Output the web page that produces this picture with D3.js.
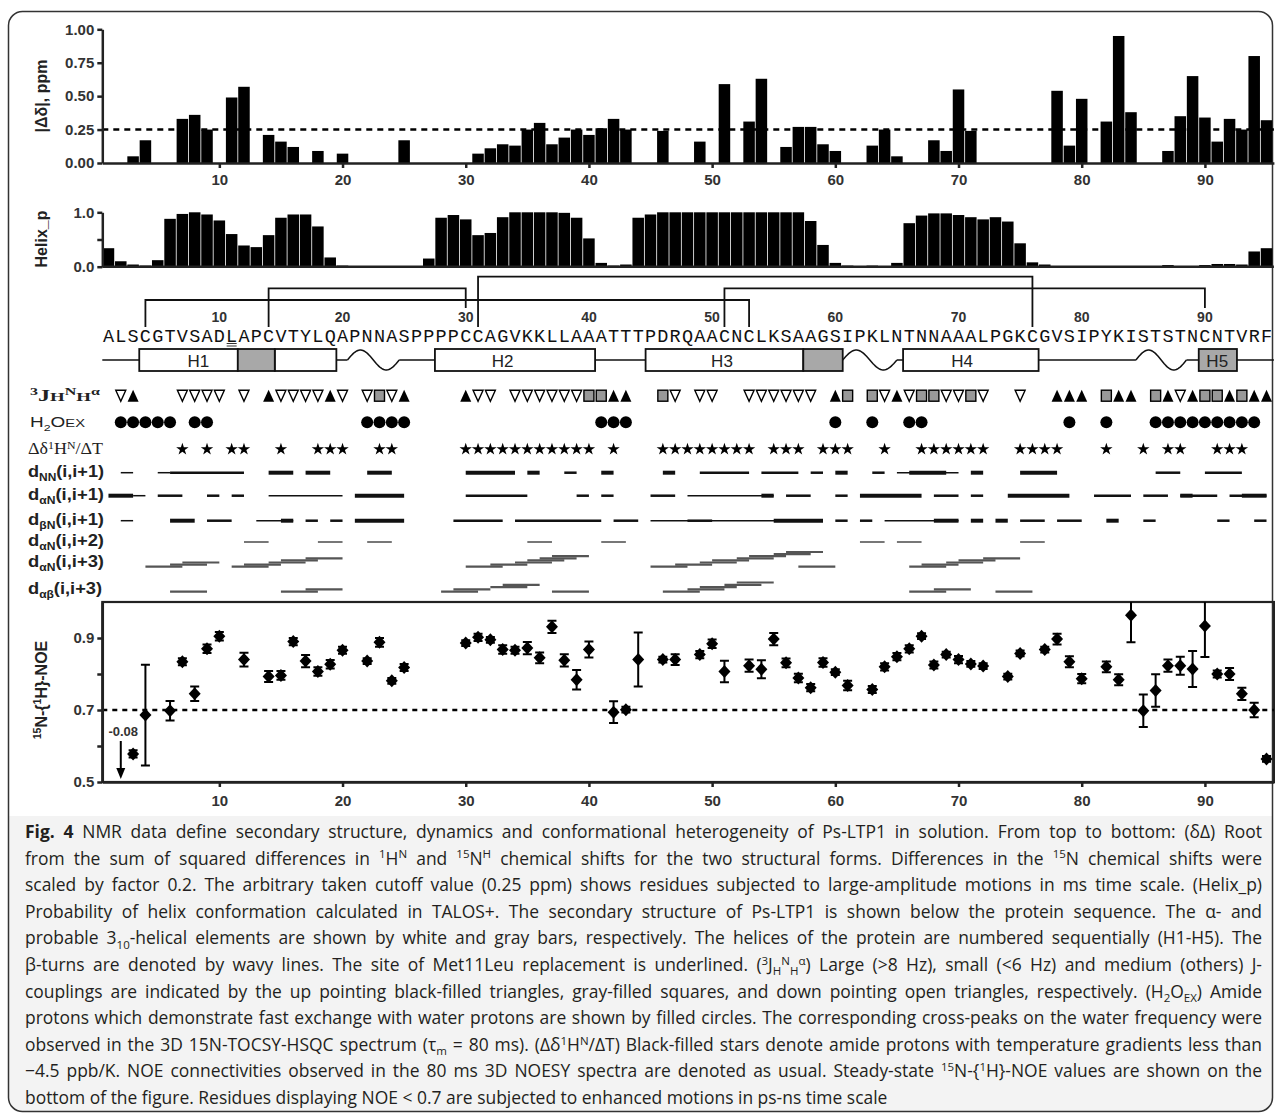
<!DOCTYPE html>
<html><head><meta charset="utf-8">
<script src="https://cdn.jsdelivr.net/npm/d3@7"></script>
<style>body{margin:0;background:#fff}svg{display:block}</style>
</head><body>
<svg id="c" width="1281" height="1115"></svg>
<script>
// ---------------- DATA ----------------
const sequence = "ALSCGTVSADLAPCVTYLQAPNNASPPPPCCAGVKKLLAAATTTPDRQAACNCLKSAAGSIPKLNTNNAAALPGKCGVSIPYKISTSTNCNTVRF";
const seqTicks = [10,20,30,40,50,60,70,80,90];
const underlined = [11];

// |Δδ| (ppm)
const ddRes = [3,4,7,8,9,11,12,14,15,16,18,20,25,31,32,33,34,35,36,37,38,39,40,41,42,43,46,49,51,53,54,56,57,58,59,60,63,64,65,68,69,70,71,78,79,80,82,83,84,87,88,89,90,91,92,93,94,95];
const ddVal = [0.05,0.17,0.33,0.36,0.25,0.49,0.57,0.21,0.16,0.12,0.09,0.07,0.17,0.07,0.11,0.14,0.13,0.25,0.30,0.14,0.19,0.25,0.21,0.26,0.33,0.25,0.24,0.16,0.59,0.31,0.63,0.12,0.27,0.27,0.14,0.09,0.13,0.25,0.05,0.17,0.09,0.55,0.24,0.54,0.13,0.48,0.31,0.95,0.38,0.09,0.35,0.65,0.34,0.16,0.33,0.25,0.80,0.32];
const ddCutoff = 0.25;
const ddTicks = [0,0.25,0.5,0.75,1.0];

// Helix_p for residues 1..95
const helixP = [0.34,0.10,0.04,0.02,0.12,0.88,0.97,1.00,0.96,0.85,
                0.60,0.39,0.36,0.58,0.90,0.96,0.96,0.74,0.17,0.02,
                0.01,0.01,0.01,0.01,0.01,0.01,0.15,0.90,0.95,0.87,
                0.58,0.62,0.91,1.00,1.00,1.00,1.00,0.99,0.90,0.52,
                0.07,0.02,0.04,0.90,0.96,1.00,1.00,1.00,1.00,1.00,
                1.00,1.00,1.00,1.00,1.00,1.00,1.00,0.84,0.40,0.07,
                0.02,0.01,0.02,0.01,0.07,0.80,0.94,0.98,0.98,0.95,
                0.91,0.87,0.91,0.83,0.43,0.08,0.04,0.01,0.01,0.01,
                0.01,0.01,0.01,0.01,0.01,0.01,0.03,0.01,0.01,0.03,
                0.05,0.05,0.04,0.28,0.34];
const helixTicks = [0,0.5,1.0];

// disulfide bonds [from, to, level]
const ssBonds = [[31,76,0],[14,30,1],[51,90,1],[4,53,2]];

// secondary structure (residue units)
const helixWhite = [[3.5,11.5],[14.5,19.5],[27.5,40.5],[44.6,57.4],[65.5,76.5]];
const helixGray  = [[11.5,14.5],[57.4,60.6],[89.5,92.6]];
const helixNames = ["H1","H2","H3","H4","H5"];
const helixNamePos = [8.3,33.0,50.8,70.3,91.0];
const betaTurns = [[20.4,24.6],[60.6,65.0],[84.4,88.5]];

// 3J(HN,Hα) couplings
const jLarge  = [3,14,19,25,30,42,43,60,65,78,79,80,83,84,87,89,92,94,95];
const jMedium = [23,40,41,46,61,63,67,68,71,82,86,90,91,93];
const jSmall  = [2,7,8,9,10,12,15,16,17,18,20,22,24,31,32,34,35,36,37,38,39,47,49,50,53,54,55,56,57,58,64,66,69,70,72,75,88];
// fast exchange with water
const h2oEx = [2,3,4,5,6,8,9,22,23,24,25,41,42,43,60,63,66,67,79,82,86,87,88,89,90,91,92,93,94];
// temperature gradient stars
const tempStars = [7,9,11,12,15,18,19,20,23,24,30,31,32,33,34,35,36,37,38,39,40,42,46,47,48,49,50,51,52,53,55,56,57,59,60,61,64,67,68,69,70,71,72,75,76,77,78,82,85,87,88,91,92,93];

// NOE connectivities [from, to, intensity 1..3]
const dNN = [[2,3,1],[5,6,1],[6,12,2],[14,16,3],[17,19,3],[22,24,3],[30,34,3],[35,36,3],[38,39,2],[41,42,3],[46,47,3],[49,53,2],[54,57,2],[58,59,2],[60,61,3],[63,64,2],[65,70,1],[66,69,3],[71,72,3],[75,78,3],[86,88,2],[90,93,2]];
const dAN1 = [[1,3,3],[3,4,1],[5,7,2],[9,10,2],[11,12,2],[14,20,1],[21,25,3],[30,35,2],[39,40,2],[41,42,2],[45,47,2],[48,55,1],[54,55,3],[56,58,2],[60,61,2],[62,67,3],[68,70,2],[71,72,2],[74,79,3],[81,84,2],[85,87,2],[88,91,2],[88,89,3],[92,95,2],[93,95,3]];
const dBN1 = [[2,3,1],[6,8,3],[9,11,2],[13,16,1],[15,16,3],[17,18,2],[19,20,2],[21,25,3],[29,33,2],[34,41,2],[42,44,2],[45,59,1],[48,50,2],[55,59,3],[60,61,2],[62,63,2],[64,70,1],[68,70,3],[71,72,3],[73,74,3],[75,77,2],[78,80,2],[82,83,3],[85,86,2],[91,92,2],[94,95,2]];
const dAN2 = [[12,14],[18,20],[22,24],[35,37],[41,43],[62,64],[65,67],[75,77]];
// i -> i+3 connectivities [i, stack level]
const dAN3 = [[4,0],[6,1],[7,2],[11,0],[12,1],[14,2],[15,3],[17,4],[30,0],[32,1],[34,2],[35,3],[36,4],[37,5],[45,0],[47,1],[49,2],[50,3],[52,4],[53,5],[55,6],[56,7],[57,0],[66,0],[67,1],[69,2],[70,3],[72,4]];
const dAB3 = [[6,0],[15,0],[17,1],[28,0],[29,1],[32,2],[33,3],[37,0],[46,0],[48,1],[49,2],[51,3],[52,4],[66,0],[68,1],[73,0]];

// 15N-{1H}-NOE
const noeRes = [3,4,6,7,8,9,10, 12,14,15,16,17,18,19,20, 22,23,24,25,
  30,31,32,33,34,35,36,37,38,39,40, 42,43,44, 46,47, 49,50,51,
  53,54,55,56,57,58,59,60,61, 63,64,65,66,67,68,69,70,71,72, 74,75, 77,78,79,80,
  82,83,84,85,86,87,88,89,90,91,92,93,94,95];
const noeVal = [0.578,0.686,0.698,0.834,0.745,0.870,0.905, 0.840,0.793,0.796,0.890,0.836,0.807,0.827,0.866, 0.836,0.888,0.781,0.818,
  0.886,0.902,0.895,0.868,0.866,0.872,0.845,0.931,0.838,0.784,0.868, 0.694,0.701,0.840, 0.840,0.840, 0.854,0.884,0.807,
  0.823,0.813,0.897,0.831,0.789,0.762,0.832,0.805,0.768, 0.757,0.820,0.848,0.870,0.905,0.825,0.854,0.840,0.828,0.822, 0.793,0.857, 0.868,0.897,0.834,0.787,
  0.820,0.784,0.963,0.698,0.754,0.823,0.823,0.814,0.933,0.800,0.800,0.745,0.700,0.564];
const noeErr = [0.010,0.140,0.027,0.010,0.020,0.012,0.012, 0.019,0.015,0.012,0.010,0.017,0.012,0.012,0.010, 0.008,0.012,0.008,0.010,
  0.008,0.010,0.008,0.012,0.010,0.017,0.015,0.017,0.017,0.027,0.022, 0.030,0.008,0.075, 0.008,0.015, 0.010,0.012,0.030,
  0.017,0.025,0.017,0.012,0.012,0.010,0.012,0.008,0.013, 0.010,0.010,0.010,0.010,0.008,0.010,0.008,0.010,0.008,0.008, 0.008,0.008, 0.008,0.015,0.015,0.013,
  0.015,0.015,0.075,0.045,0.045,0.017,0.025,0.050,0.086,0.010,0.017,0.017,0.020,0.008];
const noeOffscale = [{res:2, label:"-0.08"}];
const noeCutoff = 0.7;
const noeTicks = [0.5,0.6,0.7,0.8,0.9];
const noeLabeled = [0.5,0.7,0.9];
const xTicks = [10,20,30,40,50,60,70,80,90];

// caption: [text, kind]
const caption = [
 [["Fig. 4","b"],[" NMR data define secondary structure, dynamics and conformational heterogeneity of Ps-LTP1 in solution. From top to bottom: (δΔ) Root","n"]],
 [["from the sum of squared differences in ","n"],["1","sup"],["H","n"],["N","sup"],[" and ","n"],["15","sup"],["N","n"],["H","sup"],[" chemical shifts for the two structural forms. Differences in the ","n"],["15","sup"],["N chemical shifts were","n"]],
 [["scaled by factor 0.2. The arbitrary taken cutoff value (0.25 ppm) shows residues subjected to large-amplitude motions in ms time scale. (Helix_p)","n"]],
 [["Probability of helix conformation calculated in TALOS+. The secondary structure of Ps-LTP1 is shown below the protein sequence. The α- and","n"]],
 [["probable 3","n"],["10","sub"],["-helical elements are shown by white and gray bars, respectively. The helices of the protein are numbered sequentially (H1-H5). The","n"]],
 [["β-turns are denoted by wavy lines. The site of Met11Leu replacement is underlined. (","n"],["3","sup"],["J","n"],["H","sub"],["N","sup"],["H","sub"],["α","sup"],[") Large (>8 Hz), small (<6 Hz) and medium (others) J-","n"]],
 [["couplings are indicated by the up pointing black-filled triangles, gray-filled squares, and down pointing open triangles, respectively. (H","n"],["2","sub"],["O","n"],["EX","sub"],[") Amide","n"]],
 [["protons which demonstrate fast exchange with water protons are shown by filled circles. The corresponding cross-peaks on the water frequency were","n"]],
 [["observed in the 3D 15N-TOCSY-HSQC spectrum (τ","n"],["m","sub"],[" = 80 ms). (Δδ","n"],["1","sup"],["H","n"],["N","sup"],["/ΔT) Black-filled stars denote amide protons with temperature gradients less than","n"]],
 [["−4.5 ppb/K. NOE connectivities observed in the 80 ms 3D NOESY spectra are denoted as usual. Steady-state ","n"],["15","sup"],["N-{","n"],["1","sup"],["H}-NOE values are shown on the","n"]],
 [["bottom of the figure. Residues displaying NOE < 0.7 are subjected to enhanced motions in ps-ns time scale","n"]]
];

// ---------------- DRAW ----------------
const W = 1281, H = 1115;
const svg = d3.select("#c");
const SANS = "'Liberation Sans', Arial, sans-serif";
const SERIF = "'Liberation Serif', 'Times New Roman', serif";
const INK = "#222";
svg.append("rect").attr("width",W).attr("height",H).attr("fill","#fff");

const defs = svg.append("defs");
defs.append("clipPath").attr("id","frameClip").append("rect")
  .attr("x",8.5).attr("y",11.5).attr("width",1264).attr("height",1100).attr("rx",14);

// caption background
svg.append("rect").attr("x",8).attr("y",816).attr("width",1266).attr("height",300)
  .attr("fill","#f3f3f3").attr("clip-path","url(#frameClip)");
svg.append("rect").attr("x",8.5).attr("y",11.5).attr("width",1264).attr("height",1100).attr("rx",14)
  .attr("fill","none").attr("stroke","#333").attr("stroke-width",1.5);

const x = d3.scaleLinear().domain([0.5,95.6]).range([102.3,1273.9]);
const step = x(2)-x(1);

function styleAxis(g, fs){
  g.attr("font-family",SANS).attr("font-size",fs).attr("font-weight","bold");
  g.select(".domain").attr("stroke",INK).attr("stroke-width",2.5);
  g.selectAll(".tick line").attr("stroke",INK).attr("stroke-width",2.5);
  g.selectAll(".tick text").attr("fill","#333");
}
function rich(g, xx, yy, parts, fs, opts){
  opts = opts||{};
  const t = g.append("text").attr("x",xx).attr("y",yy).attr("font-size",fs)
    .attr("font-family",opts.family||SANS).attr("fill",opts.fill||INK);
  if(opts.weight) t.attr("font-weight",opts.weight);
  if(opts.anchor) t.attr("text-anchor",opts.anchor);
  let cur = 0;
  parts.forEach(([txt,kind])=>{
    const off = kind==="sup" ? -0.36*fs : kind==="sub" ? 0.24*fs : 0;
    const ts = t.append("tspan").text(txt).attr("dy", off-cur);
    cur = off;
    if(kind==="sup"||kind==="sub") ts.attr("font-size",fs*0.66);
    if(kind==="sm") ts.attr("font-size",fs*0.78);
    if(kind==="b") ts.attr("font-weight","bold");
  });
  return t;
}

// ---- Panel 1: |Δδ| ----
const yDD = d3.scaleLinear().domain([0,1]).range([163,29.3]);
const p1 = svg.append("g");
p1.selectAll("rect.bar").data(ddRes).join("rect").attr("class","bar")
  .attr("x",r=>x(r)-step/2+0.4).attr("width",step-0.8)
  .attr("y",(r,i)=>yDD(ddVal[i])).attr("height",(r,i)=>yDD(0)-yDD(ddVal[i]))
  .attr("fill","#000");
p1.append("line").attr("x1",x(0.5)).attr("x2",x(95.6)).attr("y1",yDD(ddCutoff)).attr("y2",yDD(ddCutoff))
  .attr("stroke","#000").attr("stroke-width",2.5).attr("stroke-dasharray","6,5");
const a1y = p1.append("g").attr("transform",`translate(${x(0.5)},0)`)
  .call(d3.axisLeft(yDD).tickValues(ddTicks).tickFormat(d3.format(".2f")).tickSize(5).tickSizeOuter(0));
styleAxis(a1y,15);
const a1x = p1.append("g").attr("transform",`translate(0,${yDD(0)})`)
  .call(d3.axisBottom(x).tickValues(xTicks).tickSize(5).tickSizeOuter(0).tickPadding(6));
styleAxis(a1x,15);
p1.append("text").attr("transform",`translate(47,96) rotate(-90)`).attr("text-anchor","middle")
  .attr("font-family",SANS).attr("font-weight","bold").attr("font-size",16).attr("fill",INK).text("|Δδ|, ppm");

// ---- Panel 2: Helix_p ----
const yH = d3.scaleLinear().domain([0,1]).range([266.7,212.3]);
const p2 = svg.append("g");
p2.selectAll("rect").data(helixP).join("rect")
  .attr("x",(v,i)=>x(i+1)-step/2+0.4).attr("width",step-0.8)
  .attr("y",v=>yH(v)).attr("height",v=>yH(0)-yH(v)).attr("fill","#000");
const a2y = p2.append("g").attr("transform",`translate(${x(0.5)},0)`)
  .call(d3.axisLeft(yH).tickValues(helixTicks).tickFormat(d=>d===0.5?"":d3.format(".1f")(d)).tickSize(5).tickSizeOuter(0));
styleAxis(a2y,15);
p2.append("line").attr("x1",x(0.5)).attr("x2",x(95.6)).attr("y1",yH(0)).attr("y2",yH(0)).attr("stroke",INK).attr("stroke-width",2.5);
p2.append("text").attr("transform",`translate(47,239) rotate(-90)`).attr("text-anchor","middle")
  .attr("font-family",SANS).attr("font-weight","bold").attr("font-size",16).attr("fill",INK).text("Helix_p");

// ---- Disulfide bonds ----
const bondLevelY = [276.7,288.3,300];
const pB = svg.append("g").attr("stroke","#111").attr("stroke-width",1.8).attr("fill","none");
ssBonds.forEach(([a,b,l])=>{
  const yl = bondLevelY[l];
  const endY = r => (r%10===0) ? 308 : 327;
  pB.append("path").attr("d",`M${x(a)},${endY(a)}V${yl}H${x(b)}V${endY(b)}`);
});

// ---- Sequence ----
const pS = svg.append("g");
pS.selectAll("text.n").data(seqTicks).join("text").attr("class","n")
  .attr("x",d=>x(d)).attr("y",322).attr("text-anchor","middle")
  .attr("font-family",SANS).attr("font-weight","bold").attr("font-size",14).attr("fill","#333").text(d=>d);
pS.selectAll("text.s").data(sequence.split("")).join("text").attr("class","s")
  .attr("x",(c,i)=>x(i+1)).attr("y",341.5).attr("text-anchor","middle")
  .attr("font-family","'Liberation Mono', 'DejaVu Sans Mono', monospace").attr("font-size",18.5).attr("fill","#111").text(c=>c);
underlined.forEach(r=>{
  [343.5,346].forEach(yy=>pS.append("line").attr("x1",x(r)-5).attr("x2",x(r)+5).attr("y1",yy).attr("y2",yy).attr("stroke","#333").attr("stroke-width",1));
});

// ---- Secondary structure ----
const ssY = 360, boxTop = 349, boxBot = 371;
const pSS = svg.append("g");
pSS.append("line").attr("x1",x(0.5)).attr("x2",x(95.6)).attr("y1",ssY).attr("y2",ssY).attr("stroke","#111").attr("stroke-width",1.5);
betaTurns.forEach(([a,b])=>{
  pSS.append("rect").attr("x",x(a)).attr("width",x(b)-x(a)).attr("y",ssY-2).attr("height",4).attr("fill","#fff");
  const pts = d3.range(0,1.0001,0.02).map(t=>[x(a)+(x(b)-x(a))*t, ssY-10*Math.sin(2*Math.PI*t)]);
  pSS.append("path").attr("d",d3.line()(pts)).attr("fill","none").attr("stroke","#111").attr("stroke-width",1.5);
});
helixWhite.forEach(([a,b])=>pSS.append("rect").attr("x",x(a)).attr("width",x(b)-x(a)).attr("y",boxTop).attr("height",boxBot-boxTop)
  .attr("fill","#fff").attr("stroke","#111").attr("stroke-width",1.8));
helixGray.forEach(([a,b])=>pSS.append("rect").attr("x",x(a)).attr("width",x(b)-x(a)).attr("y",boxTop).attr("height",boxBot-boxTop)
  .attr("fill","#a8a8a8").attr("stroke","#111").attr("stroke-width",1.8));
helixNames.forEach((n,i)=>pSS.append("text").attr("x",x(helixNamePos[i])).attr("y",367).attr("text-anchor","middle")
  .attr("font-family",SANS).attr("font-size",17).attr("fill","#222").text(n));

// ---- NMR rows ----
const rowY = {j:395.7, h2o:422.3, st:449.3, nn:472.7, an1:495.7, bn1:520.7, an2:542, an3:566.7, ab3:591.7};
const pR = svg.append("g");
const LX = 28;
function fitLabel(t, w){ t.attr("textLength",w).attr("lengthAdjust","spacingAndGlyphs"); }
fitLabel(rich(pR, LX+2, rowY.j+5, [["3","sup"],["J","n"],["H","sm"],["N","sup"],["H","sm"],["α","sup"]], 16, {family:SERIF, weight:"bold"}), 70);
fitLabel(rich(pR, LX+2, rowY.h2o+5, [["H","n"],["2","sub"],["O","n"],["EX","sm"]], 15, {}), 55);
fitLabel(rich(pR, LX, rowY.st+5, [["Δδ","n"],["1","sup"],["H","n"],["N","sup"],["/ΔT","n"]], 16, {family:SERIF}), 75);
const dLabels = [["nn",[["d","n"],["NN","sub"],["(i,i+1)","n"]]],
                 ["an1",[["d","n"],["αN","sub"],["(i,i+1)","n"]]],
                 ["bn1",[["d","n"],["βN","sub"],["(i,i+1)","n"]]],
                 ["an2",[["d","n"],["αN","sub"],["(i,i+2)","n"]]],
                 ["an3",[["d","n"],["αN","sub"],["(i,i+3)","n"]]],
                 ["ab3",[["d","n"],["αβ","sub"],["(i,i+3)","n"]]]];
const labY = {nn:rowY.nn, an1:rowY.an1, bn1:rowY.bn1, an2:rowY.an2, an3:563.3, ab3:590};
dLabels.forEach(([k,parts])=>fitLabel(rich(pR, LX, labY[k]+4, parts, 16, {weight:"bold"}), k==="ab3"?74:76));

// 3J symbols
const jY = rowY.j;
pR.selectAll("path.jl").data(jLarge).join("path").attr("class","jl")
  .attr("d",r=>`M${x(r)-5.5},${jY+6}L${x(r)+5.5},${jY+6}L${x(r)},${jY-6}Z`).attr("fill","#000");
pR.selectAll("path.js").data(jSmall).join("path").attr("class","js")
  .attr("d",r=>`M${x(r)-5},${jY-5.5}L${x(r)+5},${jY-5.5}L${x(r)},${jY+5.5}Z`).attr("fill","#fff").attr("stroke","#000").attr("stroke-width",1.4);
pR.selectAll("rect.jm").data(jMedium).join("rect").attr("class","jm")
  .attr("x",r=>x(r)-5).attr("y",jY-5.5).attr("width",10).attr("height",11)
  .attr("fill","#999").attr("stroke","#000").attr("stroke-width",1.4);
// H2O exchange
pR.selectAll("circle.h").data(h2oEx).join("circle").attr("class","h")
  .attr("cx",r=>x(r)).attr("cy",rowY.h2o).attr("r",6).attr("fill","#000");
// stars
const starPath = d3.symbol().type(d3.symbolStar).size(48)();
pR.selectAll("path.st").data(tempStars).join("path").attr("class","st")
  .attr("transform",r=>`translate(${x(r)},${rowY.st})`).attr("d",starPath).attr("fill","#000");
// connectivity bars
const wOf = {1:1.5, 2:2.5, 3:4};
function segRow(data, yy){
  pR.append("g").selectAll("line").data(data).join("line")
    .attr("x1",d=>x(d[0])).attr("x2",d=>x(d[1])).attr("y1",yy).attr("y2",yy)
    .attr("stroke","#111").attr("stroke-width",d=>wOf[d[2]]);
}
segRow(dNN, rowY.nn);
segRow(dAN1, rowY.an1);
segRow(dBN1, rowY.bn1);
pR.append("g").selectAll("line").data(dAN2).join("line")
  .attr("x1",d=>x(d[0])).attr("x2",d=>x(d[1])).attr("y1",rowY.an2).attr("y2",rowY.an2)
  .attr("stroke","#777").attr("stroke-width",2);
function stairRow(data, yy, dy){
  pR.append("g").selectAll("line").data(data).join("line")
    .attr("x1",d=>x(d[0])).attr("x2",d=>x(d[0]+3)).attr("y1",d=>yy-d[1]*dy).attr("y2",d=>yy-d[1]*dy)
    .attr("stroke","#555").attr("stroke-width",2.2);
}
stairRow(dAN3, rowY.an3, 2.1);
stairRow(dAB3, rowY.ab3, 2.3);

// ---- Panel 3: NOE ----
const yN = d3.scaleLinear().domain([0.5,1.0]).range([782,602]);
const p3 = svg.append("g");
defs.append("clipPath").attr("id","noeClip").append("rect")
  .attr("x",x(0.5)).attr("y",yN(1.0)).attr("width",x(95.6)-x(0.5)).attr("height",yN(0.5)-yN(1.0));
p3.append("rect").attr("x",x(0.5)).attr("y",yN(1.0)).attr("width",x(95.6)-x(0.5)).attr("height",yN(0.5)-yN(1.0))
  .attr("fill","none").attr("stroke",INK).attr("stroke-width",2.2);
p3.append("line").attr("x1",x(0.5)).attr("x2",x(95.6)).attr("y1",yN(noeCutoff)).attr("y2",yN(noeCutoff))
  .attr("stroke","#000").attr("stroke-width",2.5).attr("stroke-dasharray","5,5");
const a3y = p3.append("g").attr("transform",`translate(${x(0.5)},0)`)
  .call(d3.axisLeft(yN).tickValues(noeTicks).tickFormat(d=>noeLabeled.includes(d)?d3.format(".1f")(d):"").tickSize(5).tickSizeOuter(0));
styleAxis(a3y,15);
const a3x = p3.append("g").attr("transform",`translate(0,${yN(0.5)})`)
  .call(d3.axisBottom(x).tickValues(xTicks).tickSize(5).tickSizeOuter(0).tickPadding(8));
styleAxis(a3x,15);
rich(p3, 0, 0, [["15","sup"],["N-{","n"],["1","sup"],["H}-NOE","n"]], 16, {weight:"bold", anchor:"middle"})
  .attr("transform","translate(47,690) rotate(-90)");
const eb = p3.append("g").attr("clip-path","url(#noeClip)");
noeRes.forEach((r,i)=>{
  const cx = x(r), v = noeVal[i], e = noeErr[i];
  const y1 = yN(v+e), y2 = yN(v-e);
  eb.append("path").attr("d",`M${cx},${y1}V${y2}M${cx-4.5},${y1}H${cx+4.5}M${cx-4.5},${y2}H${cx+4.5}`)
    .attr("stroke","#000").attr("stroke-width",2).attr("fill","none");
  eb.append("path").attr("d",`M${cx},${yN(v)-6.5}L${cx+6},${yN(v)}L${cx},${yN(v)+6.5}L${cx-6},${yN(v)}Z`).attr("fill","#000");
});
noeOffscale.forEach(o=>{
  const cx = x(o.res);
  p3.append("line").attr("x1",cx).attr("x2",cx).attr("y1",741).attr("y2",770).attr("stroke","#000").attr("stroke-width",2);
  p3.append("path").attr("d",`M${cx-4.5},${768}L${cx+4.5},${768}L${cx},${779}Z`).attr("fill","#000");
  p3.append("text").attr("x",x(o.res+0.2)).attr("y",736).attr("text-anchor","middle")
    .attr("font-family",SANS).attr("font-weight","bold").attr("font-size",13).attr("fill","#333").text(o.label);
});

// ---- Caption ----
const cap = svg.append("g");
const capX = 25, capW = 1237, lastW = 863, capY0 = 838, capDY = 26.6;
const CAPFONT = "'Open Sans', 'Noto Sans', sans-serif";
// calibrate font size so the last (unjustified) line has the reference's length
const probe = rich(cap, capX, -100, caption[caption.length-1], 17, {family:CAPFONT});
const capFs = 17 * lastW / probe.node().getComputedTextLength();
probe.remove();
caption.forEach((parts,i)=>{
  const t = rich(cap, capX, capY0+i*capDY, parts, capFs, {family:CAPFONT, fill:"#231f20"});
  if(i < caption.length-1){
    const len = t.node().getComputedTextLength();
    const txt = parts.map(p=>p[0]).join("");
    const nsp = (txt.match(/ /g)||[]).length;
    if(nsp>0) t.attr("word-spacing", (capW-len)/nsp);
  }
});
</script>
</body></html>
